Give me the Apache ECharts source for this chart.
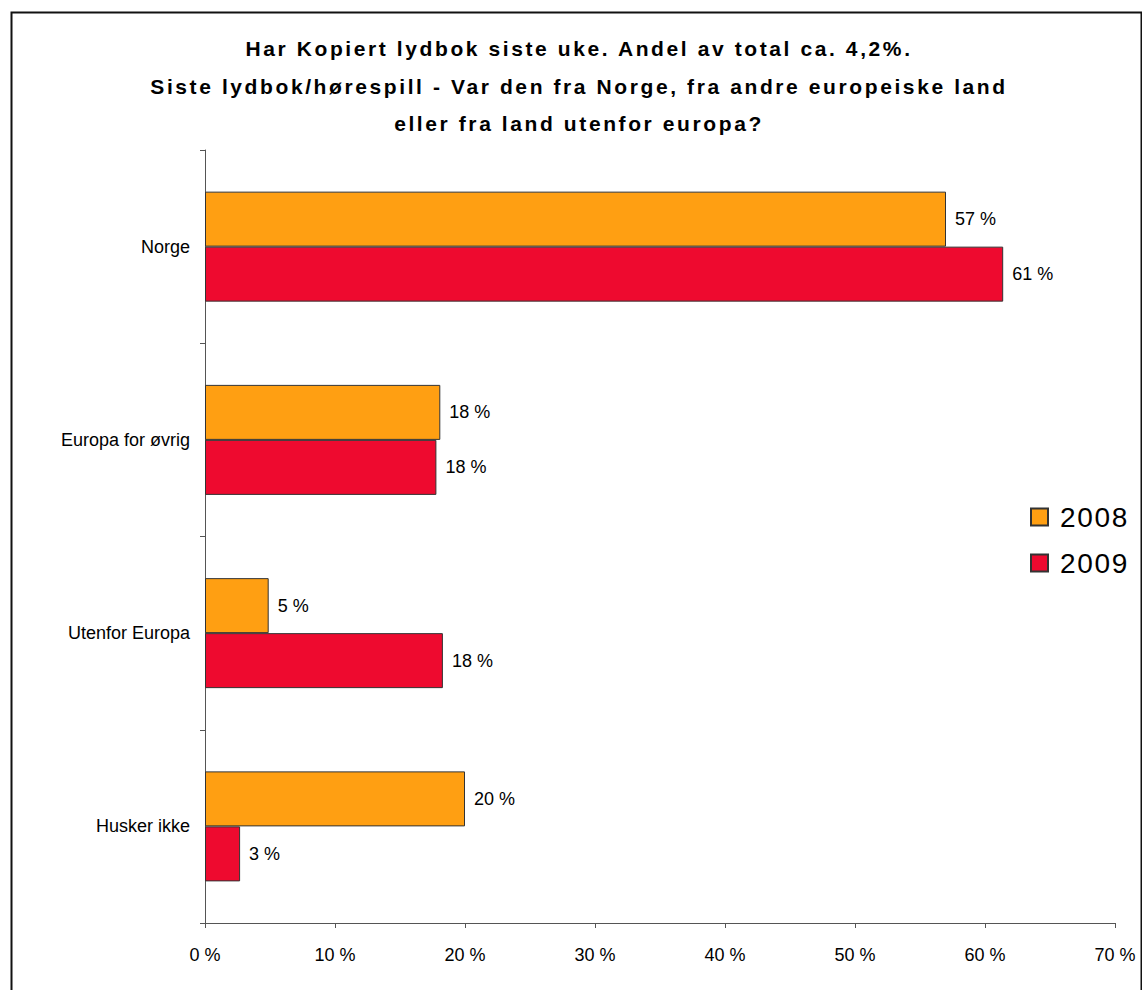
<!DOCTYPE html>
<html>
<head>
<meta charset="utf-8">
<script src="https://cdn.jsdelivr.net/npm/echarts@6/dist/echarts.min.js"></script>
<style>
  html, body { margin: 0; padding: 0; background: #fff; }
  #chart { width: 1142px; height: 990px; }
  /* the original renders title and legend text with wide letter spacing */
  #chart text[style*="bold"] { letter-spacing: 2.6px; }
  #chart text[style*="28px"] { letter-spacing: 1.7px; }
</style>
</head>
<body>
<div id="chart"></div>
<script>
  // data
  var categories = ['Norge', 'Europa for øvrig', 'Utenfor Europa', 'Husker ikke'];
  var years = ['2008', '2009'];
  var values2008 = [57.0, 18.1, 4.9, 20.0];
  var values2009 = [61.4, 17.8, 18.3, 2.7];
  var xTicks = [0, 10, 20, 30, 40, 50, 60, 70];

  var colors = ['#FF9F12', '#EE0A2F'];
  var font = 'Arial, "Liberation Sans", sans-serif';

  var chart = echarts.init(document.getElementById('chart'), null, { renderer: 'svg' });

  function makeSeries(name, data, color) {
    return {
      name: name,
      type: 'bar',
      data: data,
      barWidth: 55,
      barGap: '0%',
      itemStyle: { color: color, borderColor: '#333', borderWidth: 1 },
      label: {
        show: true,
        position: 'right',
        distance: 9,
        color: '#000',
        fontFamily: font,
        fontSize: 18,
        formatter: function (p) { return Math.round(p.value) + ' %'; }
      }
    };
  }

  var option = {
    animation: false,
    backgroundColor: '#fff',
    title: {
      text: 'Har Kopiert lydbok siste uke. Andel av total ca. 4,2%.\nSiste lydbok/hørespill - Var den fra Norge, fra andre europeiske land\neller fra land utenfor europa?',
      left: 574,
      textAlign: 'center',
      top: 25,
      textStyle: {
        fontFamily: font,
        fontSize: 21,
        fontWeight: 'bold',
        color: '#000',
        lineHeight: 37.5
      }
    },
    legend: {
      data: years,
      orient: 'vertical',
      left: 1025,
      top: 498,
      itemWidth: 17,
      itemHeight: 17,
      itemGap: 18,
      icon: 'rect',
      textStyle: { fontFamily: font, fontSize: 28, color: '#000', padding: [0, 0, 0, 7] }
    },
    grid: { left: 205, right: 27, top: 150, bottom: 67, containLabel: false },
    xAxis: {
      type: 'value',
      min: xTicks[0],
      max: xTicks[xTicks.length - 1],
      interval: 10,
      splitLine: { show: false },
      axisLine: { show: true, lineStyle: { color: '#555', width: 1 } },
      axisTick: { show: true, length: 5, lineStyle: { color: '#555' } },
      axisLabel: {
        margin: 23,
        color: '#000',
        fontFamily: font,
        fontSize: 18,
        formatter: '{value} %'
      }
    },
    yAxis: {
      type: 'category',
      data: categories,
      inverse: true,
      axisLine: { show: true, lineStyle: { color: '#555', width: 1 } },
      axisTick: { show: true, length: 5, lineStyle: { color: '#555' } },
      axisLabel: {
        margin: 15,
        color: '#000',
        fontFamily: font,
        fontSize: 18
      }
    },
    graphic: [{
      type: 'rect',
      left: 9,
      top: 10,
      shape: { width: 1130, height: 1000 },
      style: { fill: 'none', stroke: '#111', lineWidth: 2 },
      silent: true
    }],
    series: [
      makeSeries(years[0], values2008, colors[0]),
      makeSeries(years[1], values2009, colors[1])
    ]
  };

  chart.setOption(option);
</script>
</body>
</html>
